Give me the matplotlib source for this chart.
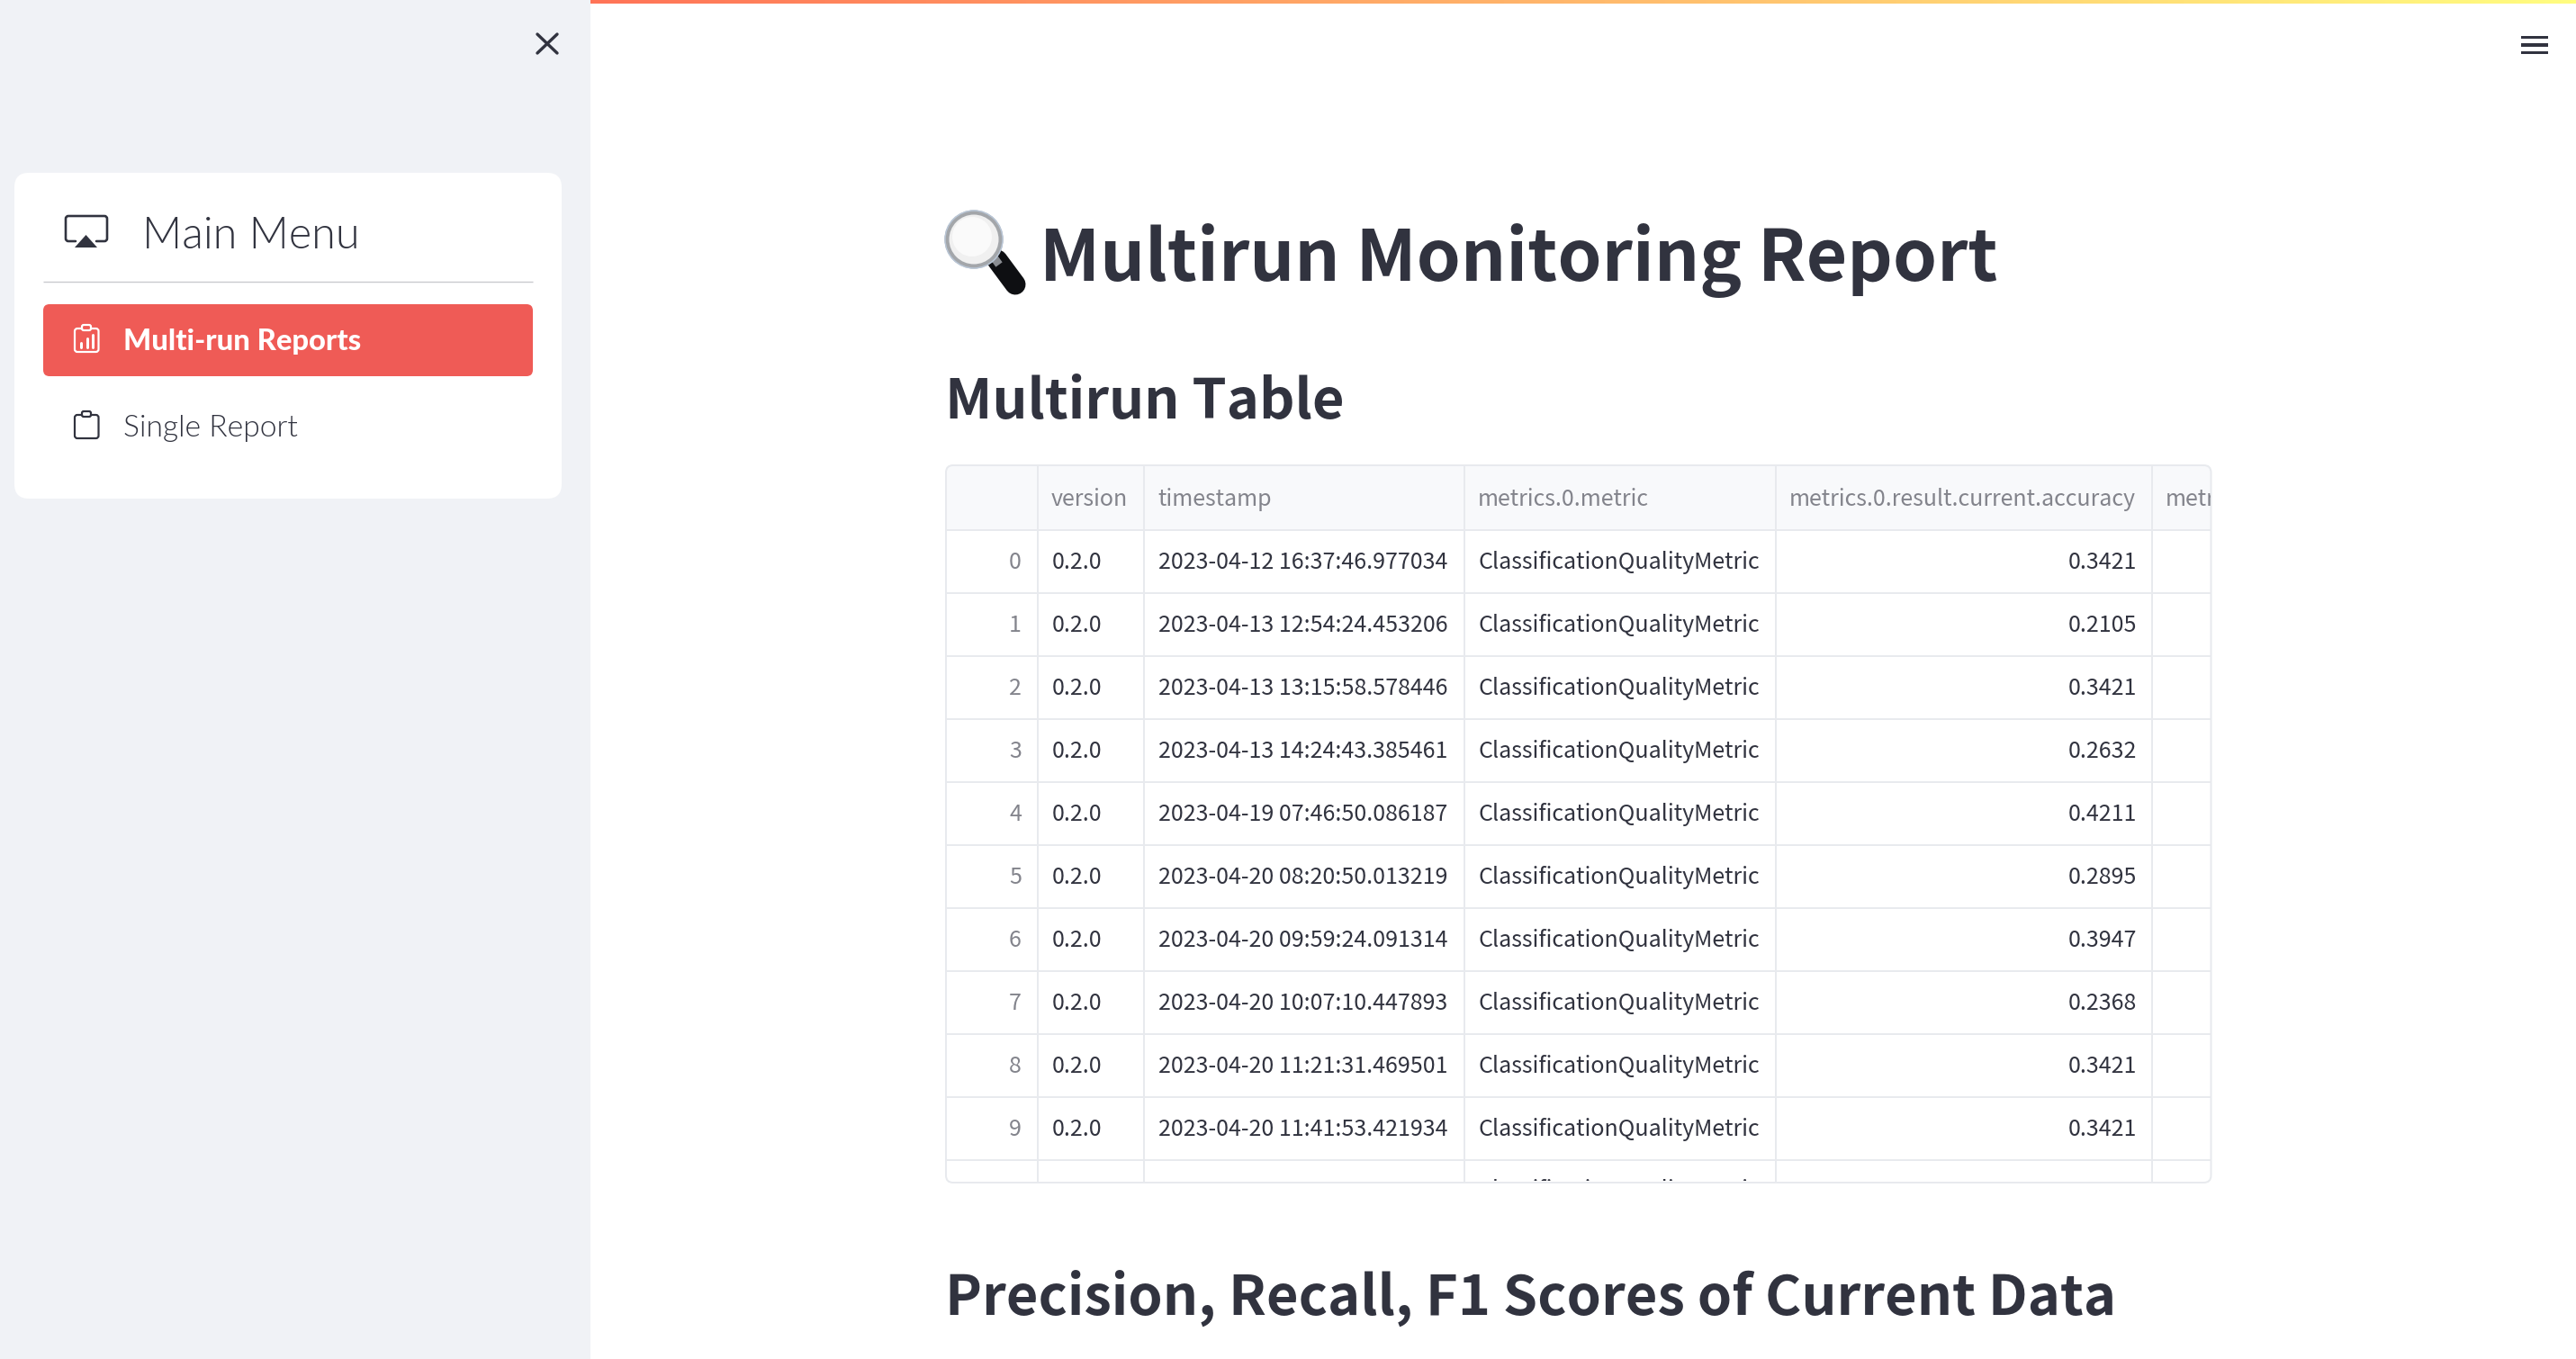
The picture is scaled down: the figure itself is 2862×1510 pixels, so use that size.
import os
import numpy as np
import matplotlib
matplotlib.use("Agg")
import matplotlib.pyplot as plt
from matplotlib import font_manager as fm
from matplotlib.patches import FancyBboxPatch, Rectangle, Circle, Polygon, PathPatch
from matplotlib.path import Path

# ---- data ----
page_title = "Multirun Monitoring Report"
table_title = "Multirun Table"
next_title = "Precision, Recall, F1 Scores of Current Data"
menu_title = "Main Menu"
menu_items = ["Multi-run Reports", "Single Report"]
headers = ["version", "timestamp", "metrics.0.metric", "metrics.0.result.current.accuracy", "metrics.0.result.current.precision"]
versions = ["0.2.0"] * 10
timestamps = [
    "2023-04-12 16:37:46.977034", "2023-04-13 12:54:24.453206",
    "2023-04-13 13:15:58.578446", "2023-04-13 14:24:43.385461",
    "2023-04-19 07:46:50.086187", "2023-04-20 08:20:50.013219",
    "2023-04-20 09:59:24.091314", "2023-04-20 10:07:10.447893",
    "2023-04-20 11:21:31.469501", "2023-04-20 11:41:53.421934",
]
metric_names = ["ClassificationQualityMetric"] * 11
accuracies = [0.3421, 0.2105, 0.3421, 0.2632, 0.4211, 0.2895, 0.3947, 0.2368, 0.3421, 0.3421]

W, H = 2862, 1510
DARK = "#31333F"
GRID = "#E8EAEE"
BODY = ["Noto Sans CJK JP", "DejaVu Sans"]
px = 72 / 100  # one pixel in points


def lato(styles, weight):
    for style in styles:
        for f in fm.fontManager.ttflist:
            if os.path.basename(f.fname).split(".")[0].lower() == f"lato-{style}":
                return fm.FontProperties(fname=f.fname)
    return fm.FontProperties(family="Lato", weight=weight)


fig = plt.figure(figsize=(W / 100, H / 100), dpi=100, facecolor="white")
ax = fig.add_axes([0, 0, 1, 1])
ax.set_xlim(0, W)
ax.set_ylim(H, 0)
ax.axis("off")


def rrect(x0, y0, x1, y1, r, **kw):
    p = FancyBboxPatch((x0 + r, y0 + r), x1 - x0 - 2 * r, y1 - y0 - 2 * r,
                       boxstyle=f"round,pad={r},rounding_size={r}", mutation_aspect=1, **kw)
    ax.add_patch(p)
    return p


# top gradient bar, then the sidebar over it
grad = np.linspace(0, 1, 512)[None, :, None]
c0, c1 = np.array([255, 75, 75]) / 255, np.array([255, 253, 128]) / 255
ax.imshow(c0 + (c1 - c0) * grad, extent=(0, W, 4, 0), aspect="auto", zorder=1)
ax.set_xlim(0, W)
ax.set_ylim(H, 0)
ax.add_patch(Rectangle((0, 0), 656, H, fc="#F0F2F6", ec="none", zorder=2))

# close cross
for a, b in [((597, 38), (619, 59)), ((619, 38), (597, 59))]:
    ax.plot([a[0], b[0]], [a[1], b[1]], color=DARK, lw=3.4 * px, solid_capstyle="round", zorder=3)

# hamburger
for y in (41.5, 50, 58.5):
    ax.add_patch(Rectangle((2801, y - 1.8), 30, 3.6, fc=DARK, ec="none", zorder=3))

# menu card
rrect(16, 192, 624, 554, 16, fc="white", ec="none", zorder=3)
ax.plot([48, 592], [313, 313], color="#C9CACE", lw=1.4 * px, zorder=4, solid_capstyle="butt")
rrect(48, 338, 592, 418, 7, fc="#EF5B56", ec="none", zorder=4)

# airplay icon
verts = [(84, 268), (76, 268), (73, 268), (73, 265), (73, 243), (73, 240), (76, 240), (116, 240), (119, 240), (119, 243),
         (119, 265), (119, 268), (116, 268), (107, 268)]
codes = [Path.MOVETO, Path.LINETO, Path.CURVE3, Path.CURVE3, Path.LINETO, Path.CURVE3, Path.CURVE3, Path.LINETO,
         Path.CURVE3, Path.CURVE3, Path.LINETO, Path.CURVE3, Path.CURVE3, Path.LINETO]
ax.add_patch(PathPatch(Path(verts, codes), fc="none", ec=DARK, lw=2.6 * px, zorder=5, capstyle="round"))
ax.add_patch(Polygon([(83, 275), (108, 275), (95.5, 261)], fc=DARK, ec="none", zorder=5))


def clipboard(top, color):
    rrect(83, top + 4, 109.5, top + 30, 3, fc="none", ec=color, lw=2.2 * px, zorder=5)
    rrect(91, top, 101, top + 6, 2, fc="#EF5B56" if color == "white" else "white", ec=color, lw=2.2 * px, zorder=6)


clipboard(361, "white")
clipboard(457, DARK)
for x, y0 in zip((90, 96.5, 103), (381, 375.5, 372)):
    ax.plot([x, x], [y0, 385.5], color="white", lw=3 * px, solid_capstyle="round", zorder=6)

light = lato(["light"], "light")
bold = lato(["heavy", "bold"], "bold")
ax.text(158, 276.5, menu_title, fontproperties=light, fontsize=35, color=DARK, zorder=5)
ax.text(137, 389, menu_items[0], fontproperties=bold, fontsize=23.6, color="white", zorder=5)
ax.text(137, 485, menu_items[1], fontproperties=light, fontsize=24.2, color=DARK, zorder=5)

# magnifier emoji
ax.plot([1108, 1128], [289, 316], color="#0E0F12", lw=23 * px, solid_capstyle="round", zorder=3)
ax.plot([1102, 1110], [283, 294], color="#8A8D92", lw=9 * px, solid_capstyle="butt", zorder=3)
ax.add_patch(Circle((1082, 266), 30, fc="#F0F0F0", ec="#A3A6AA", lw=5 * px, zorder=4))
ax.add_patch(Circle((1080, 263), 22, fc="#FAFAFA", ec="none", zorder=4))
ax.add_patch(Circle((1082, 266), 32, fc="none", ec="#B9C6D6", lw=1.5 * px, zorder=4))

# headings
ax.text(1155, 312, page_title, family=BODY, weight="bold", fontsize=56.6, color=DARK, zorder=5)
ax.text(1050, 465, table_title, family=BODY, weight="bold", fontsize=44.2, color=DARK, zorder=5)
ax.text(1050, 1461, next_title, family=BODY, weight="bold", fontsize=44.2, color=DARK, zorder=5)

# table
L, R, T, B = 1051, 2456.5, 517, 1314
col_x = [1153, 1271, 1627, 1973, 2391]
head_bottom = 588.5
row_h = 70
frame = rrect(L, T, R, B, 8, fc="white", ec="none", zorder=1)
ax.add_patch(Rectangle((L, T), R - L, head_bottom - T, fc="#F8F9FB", ec="none", zorder=2, clip_path=frame))
clip = Rectangle((L, T), R - L, B - T - 2, transform=ax.transData)

for i in range(len(versions) + 1):
    y = head_bottom + row_h * i
    ax.plot([L, R], [y, y], color=GRID, lw=2 * px, zorder=3, solid_capstyle="butt")
for x in col_x:
    ax.plot([x, x], [T, B], color=GRID, lw=2 * px, zorder=3, solid_capstyle="butt")
rrect(L, T, R, B, 8, fc="none", ec=GRID, lw=2 * px, zorder=4)

HDR = "#83848C"
FS = 18.0
base = 562
for j, name in enumerate(headers):
    x = [1168, 1286, 1642, 1988, 2406][j]
    t = ax.text(x, base, name, family=BODY, fontsize=FS, color=HDR, zorder=5)
    t.set_clip_path(Rectangle((L, T), R - L - 1, B - T, transform=ax.transData))
    t.set_clip_on(True)

for i, (v, ts, m, acc) in enumerate(zip(versions, timestamps, metric_names, accuracies)):
    y = 632 + row_h * i
    ax.text(1135, y, str(i), family=BODY, fontsize=FS, color=HDR, ha="right", zorder=5)
    ax.text(1169, y, v, family=BODY, fontsize=FS, color=DARK, zorder=5)
    ax.text(1287, y, ts, family=BODY, fontsize=FS, color=DARK, zorder=5)
    ax.text(1642, y, m, family=BODY, fontsize=FS, color=DARK, zorder=5)
    ax.text(2374, y, f"{acc:.4f}", family=BODY, fontsize=FS, color=DARK, ha="right", zorder=5)
# partly scrolled eleventh row
t = ax.text(1642, 632 + row_h * 10 - 2.5, metric_names[10], family=BODY, fontsize=FS, color=DARK, zorder=5)
t.set_clip_path(clip)
t.set_clip_on(True)

fig.savefig("out.png", dpi=100, facecolor="white")
